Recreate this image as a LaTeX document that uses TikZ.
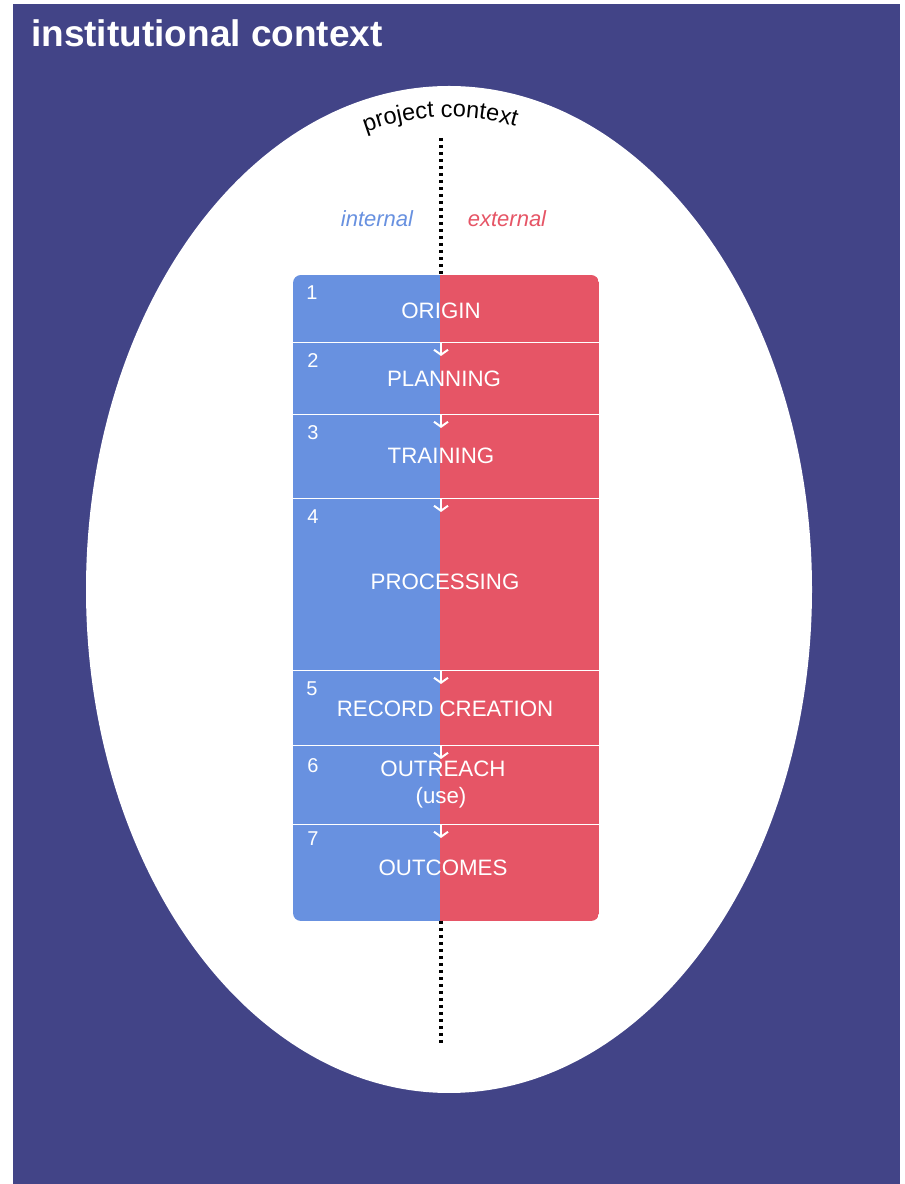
\documentclass[tikz,border=0pt]{standalone}
\usepackage{fontspec}
\setmainfont{Liberation Sans}
\usetikzlibrary{arrows.meta,decorations.text}
\definecolor{bgc}{HTML}{424487}
\definecolor{bluec}{HTML}{6891E0}
\definecolor{redc}{HTML}{E65566}
\tikzset{
  stagelabel/.style={text=white, font=\fontsize{22.3}{25}\selectfont, inner sep=0pt, align=center},
  stagenum/.style={text=white, font=\fontsize{20}{22}\selectfont, inner sep=0pt},
  sepline/.style={white, line width=0.9pt},
  flowarrow/.style={white, line width=2pt, -{Straight Barb[length=5pt,width=14pt,line width=2pt]}},
  dots/.style={black, line width=3.4pt, dash pattern=on 3.4pt off 3.6pt},
}
\begin{document}
\begin{tikzpicture}[x=1pt,y=1pt]
\useasboundingbox (0,0) rectangle (905,1184);
% institutional context
\fill[bgc] (13,0) rectangle (900,1180);
\node[anchor=base west, inner sep=0pt, text=white, font=\bfseries\fontsize{37}{40}\selectfont] (inst) at (31,1137) {institutional context};
% project context ellipse
\fill[white] (449,594.5) ellipse [x radius=363, y radius=503.5];
\path[decorate, decoration={text along path, text align=center,
  text={|\fontsize{23.5}{25}\selectfont|project context}}]
  (449,594.5) ++(116.4:332 and 472.5) arc[start angle=116.4, end angle=66.4, x radius=332, y radius=472.5];
% internal / external
\node[text=bluec, font=\itshape\fontsize{22}{24}\selectfont, inner sep=0pt] (int) at (377,965) {internal};
\node[text=redc, font=\itshape\fontsize{22}{24}\selectfont, inner sep=0pt] (ext) at (507,965) {external};
% stages box
\coordinate (boxtop) at (441,909);
\coordinate (boxbot) at (441,263);
\coordinate (dottop) at (441,1046);
\coordinate (dotbot) at (441,141);
\begin{scope}
  \clip[rounded corners=8pt] (293,263) rectangle (599,909);
  \fill[bluec] (293,263) rectangle (440,909);
  \fill[redc] (440,263) rectangle (599,909);
  \foreach \yy in {842,770,686,514,439,360} {
    \draw[sepline] (293,\yy) -- (599,\yy);
  }
\end{scope}
% dotted divider
\draw[dots] (dottop) -- (boxtop);
\draw[dots] (boxbot) -- (dotbot);
% stage labels
\node[stagelabel] (s1) at (441,873) {ORIGIN};
\node[stagelabel] (s2) at (444,805) {PLANNING};
\node[stagelabel] (s3) at (441,728) {TRAINING};
\node[stagelabel] (s4) at (445,602) {PROCESSING};
\node[stagelabel] (s5) at (445,475) {RECORD CREATION};
\node[stagelabel] (s6a) at (443,415) {OUTREACH};
\node[stagelabel] (s6b) at (441,386) {(use)};
\node[stagelabel] (s7) at (443,316) {OUTCOMES};
% numbers
\node[stagenum] (n1) at (312,891) {1};
\node[stagenum] (n2) at (313,823) {2};
\node[stagenum] (n3) at (313,751) {3};
\node[stagenum] (n4) at (313,667) {4};
\node[stagenum] (n5) at (312,495) {5};
\node[stagenum] (n6) at (313,418) {6};
\node[stagenum] (n7) at (313,345) {7};
% arrows between stages
\foreach \yy/\nm in {842/a,770/b,686/c,514/d,439/e,360/f} {
  \coordinate (\nm top) at (441,\yy-1);
  \coordinate (\nm bot) at (441,\yy-14);
  \draw[flowarrow] (\nm top) -- (\nm bot);
}
\end{tikzpicture}
\end{document}
